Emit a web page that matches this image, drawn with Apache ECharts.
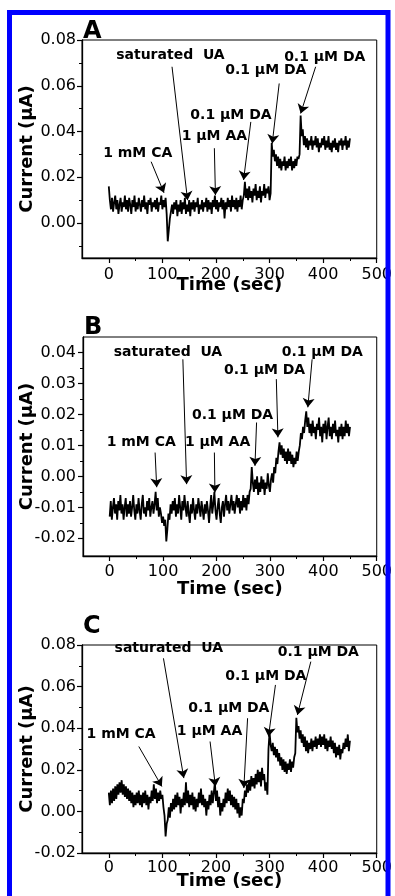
<!DOCTYPE html>
<html><head><meta charset="utf-8">
<script src="https://cdn.jsdelivr.net/npm/echarts@6/dist/echarts.min.js"></script>
<style>html,body{margin:0;padding:0;background:#fff}#c{width:395px;height:896px}</style>
</head><body><div id="c"></div>
<script>
// ---- data (time in sec, current in µA) ----
const time = [
0,2,4,6,8,10,12,14,16,18,
20,22,24,26,28,30,32,34,36,38,
40,42,44,46,48,50,52,54,56,58,
60,62,64,66,68,70,72,74,76,78,
80,82,84,86,88,90,92,94,96,98,
100,102,104,106,108,110,112,114,116,118,
120,122,124,126,128,130,132,134,136,138,
140,142,144,146,148,150,152,154,156,158,
160,162,164,166,168,170,172,174,176,178,
180,182,184,186,188,190,192,194,196,198,
200,202,204,206,208,210,212,214,216,218,
220,222,224,226,228,230,232,234,236,238,
240,242,244,246,248,250,252,254,256,258,
260,262,264,266,268,270,272,274,276,278,
280,282,284,286,288,290,292,294,296,298,
300,302,304,306,308,310,312,314,316,318,
320,322,324,326,328,330,332,334,336,338,
340,342,344,346,348,350,352,354,356,358,
360,362,364,366,368,370,372,374,376,378,
380,382,384,386,388,390,392,394,396,398,
400,402,404,406,408,410,412,414,416,418,
420,422,424,426,428,430,432,434,436,438,
440,442,444,446,448,450];

const currentA = [
0.016,0.010,0.006,0.011,0.005,0.009,0.012,0.006,0.010,0.004,
0.008,0.011,0.005,0.009,0.007,0.012,0.006,0.010,0.005,0.011,
0.008,0.004,0.010,0.007,0.012,0.005,0.009,0.006,0.011,0.008,
0.005,0.010,0.007,0.012,0.006,0.009,0.004,0.010,0.008,0.011,
0.005,0.009,0.007,0.010,0.006,0.011,0.005,0.009,0.008,0.012,
0.006,0.010,0.007,0.011,0.004,-0.008,-0.003,0.002,0.005,0.008,
0.004,0.009,0.006,0.010,0.003,0.008,0.005,0.010,0.004,0.009,
0.006,0.011,0.004,0.008,0.005,0.010,0.003,0.009,0.006,0.010,
0.005,0.009,0.007,0.011,0.004,0.008,0.006,0.010,0.005,0.009,
0.007,0.011,0.005,0.010,0.006,0.009,0.004,0.010,0.007,0.012,
0.006,0.010,0.005,0.009,0.007,0.011,0.006,0.010,0.002,0.009,
0.006,0.011,0.007,0.010,0.005,0.012,0.007,0.010,0.006,0.011,
0.005,0.010,0.007,0.012,0.006,0.010,0.012,0.018,0.011,0.015,
0.010,0.016,0.011,0.014,0.009,0.015,0.012,0.017,0.010,0.014,
0.011,0.016,0.009,0.014,0.012,0.017,0.011,0.015,0.013,0.016,
0.010,0.013,0.035,0.029,0.032,0.027,0.030,0.025,0.029,0.024,
0.028,0.023,0.027,0.025,0.029,0.023,0.027,0.024,0.028,0.025,
0.029,0.023,0.027,0.024,0.028,0.025,0.029,0.028,0.030,0.047,
0.038,0.041,0.034,0.038,0.033,0.037,0.032,0.036,0.034,0.038,
0.032,0.036,0.034,0.038,0.033,0.037,0.031,0.035,0.033,0.037,
0.034,0.038,0.032,0.036,0.033,0.038,0.032,0.035,0.031,0.036,
0.033,0.037,0.032,0.035,0.031,0.036,0.034,0.037,0.032,0.036,
0.034,0.038,0.032,0.036,0.033,0.037];

const currentB = [
-0.013,-0.008,-0.014,-0.010,-0.007,-0.012,-0.009,-0.014,-0.008,-0.011,
-0.006,-0.012,-0.009,-0.014,-0.010,-0.007,-0.013,-0.009,-0.012,-0.008,
-0.013,-0.010,-0.006,-0.011,-0.014,-0.009,-0.012,-0.007,-0.011,-0.014,
-0.009,-0.006,-0.012,-0.010,-0.013,-0.008,-0.011,-0.007,-0.013,-0.010,
-0.008,-0.012,-0.009,-0.005,-0.011,-0.007,-0.013,-0.010,-0.012,-0.015,
-0.013,-0.016,-0.014,-0.021,-0.017,-0.012,-0.014,-0.009,-0.012,-0.008,
-0.011,-0.007,-0.013,-0.009,-0.012,-0.006,-0.010,-0.014,-0.008,-0.011,
-0.006,-0.010,-0.013,-0.008,-0.012,-0.015,-0.009,-0.012,-0.007,-0.011,
-0.014,-0.009,-0.012,-0.007,-0.010,-0.013,-0.008,-0.011,-0.014,-0.009,
-0.012,-0.008,-0.011,-0.015,-0.010,-0.006,-0.012,-0.009,-0.005,-0.011,
-0.014,-0.010,-0.007,-0.012,-0.015,-0.010,-0.008,-0.013,-0.009,-0.006,
-0.011,-0.008,-0.012,-0.009,-0.006,-0.011,-0.008,-0.012,-0.009,-0.006,
-0.010,-0.007,-0.012,-0.008,-0.011,-0.006,-0.010,-0.007,-0.011,-0.006,
-0.009,-0.005,-0.004,0.003,-0.002,-0.005,-0.001,-0.004,0.000,-0.006,
-0.002,-0.005,0.000,-0.004,-0.001,-0.006,-0.002,-0.004,0.001,-0.003,
-0.005,-0.001,0.001,-0.002,0.003,0.001,0.006,0.004,0.008,0.011,
0.007,0.010,0.006,0.009,0.005,0.008,0.004,0.009,0.005,0.008,
0.004,0.007,0.003,0.006,0.004,0.008,0.005,0.008,0.010,0.014,
0.012,0.016,0.014,0.018,0.021,0.016,0.019,0.014,0.017,0.013,
0.018,0.014,0.016,0.012,0.017,0.015,0.019,0.013,0.016,0.011,
0.017,0.014,0.018,0.012,0.016,0.019,0.013,0.016,0.012,0.017,
0.014,0.018,0.013,0.015,0.011,0.016,0.013,0.017,0.012,0.016,
0.013,0.018,0.014,0.017,0.013,0.016];

const currentC = [
0.009,0.003,0.010,0.004,0.011,0.005,0.012,0.006,0.013,0.008,
0.014,0.009,0.015,0.008,0.013,0.007,0.012,0.006,0.011,0.005,
0.010,0.004,0.009,0.002,0.008,0.003,0.009,0.004,0.010,0.003,
0.008,0.002,0.009,0.004,0.010,0.003,0.008,0.001,0.007,0.004,
0.010,0.005,0.013,0.006,0.011,0.004,0.009,0.005,0.010,0.006,
0.008,0.002,-0.002,-0.012,-0.006,-0.004,0.002,-0.003,0.004,0.000,
0.006,0.001,0.008,0.002,0.009,0.003,0.007,-0.001,0.006,0.002,
0.009,0.003,0.014,0.004,0.010,0.002,0.008,0.003,0.009,0.001,
0.007,0.000,0.006,0.002,0.009,0.004,0.011,0.003,0.008,0.002,
0.006,-0.002,0.005,0.001,0.008,0.003,0.010,0.004,0.009,0.014,
0.005,0.010,0.002,0.007,-0.002,0.004,0.000,0.006,0.002,0.009,
0.004,0.011,0.005,0.010,0.003,0.008,0.002,0.007,0.001,0.006,
-0.001,0.004,-0.003,0.002,-0.002,0.006,0.004,0.010,0.007,0.013,
0.009,0.015,0.010,0.017,0.012,0.016,0.011,0.018,0.013,0.020,
0.014,0.019,0.012,0.021,0.015,0.018,0.010,0.014,0.008,0.030,
0.038,0.032,0.029,0.033,0.027,0.031,0.026,0.030,0.024,0.028,
0.022,0.026,0.020,0.025,0.019,0.024,0.018,0.023,0.020,0.025,
0.019,0.024,0.021,0.026,0.028,0.045,0.038,0.041,0.035,0.039,
0.033,0.037,0.031,0.036,0.029,0.034,0.028,0.033,0.030,0.035,
0.029,0.034,0.031,0.036,0.030,0.035,0.032,0.037,0.031,0.036,
0.032,0.037,0.030,0.035,0.029,0.034,0.031,0.036,0.030,0.034,
0.028,0.033,0.026,0.031,0.027,0.032,0.025,0.030,0.028,0.033,
0.030,0.035,0.031,0.037,0.029,0.034];

// ---- tick labels ----
const xTicks = [0,100,200,300,400,500];
const xMinorTicks = [50,150,250,350,450];
const yTicksA = [0,0.02,0.04,0.06,0.08];
const yMinorTicksA = [-0.01,0.01,0.03,0.05,0.07];
const yTicksB = [-0.02,-0.01,0,0.01,0.02,0.03,0.04];
const yMinorTicksB = [-0.015,-0.005,0.005,0.015,0.025,0.035];
const yTicksC = [-0.02,0,0.02,0.04,0.06,0.08];
const yMinorTicksC = [-0.01,0.01,0.03,0.05,0.07];

// ---- annotations (data coordinates) ----
const annotLabels = ['1 mM CA','saturated  UA','1 \u03BCM AA','0.1 \u03BCM DA','0.1 \u03BCM DA','0.1 \u03BCM DA'];
const labelPosA = [[54,0.0306],[115,0.0734],[197,0.0377],[228,0.0472],[293,0.0668],[403,0.0726]];
const arrowFromA = [[79,0.0268],[118,0.0683],[197,0.0327],[265,0.0442],[318,0.061],[386,0.0683]];
const arrowToA = [[103,0.0132],[147,0.010],[199,0.0122],[251.5,0.0188],[305,0.0348],[358,0.0479]];
const labelPosB = [[59,0.011],[109,0.040],[202,0.011],[230,0.0196],[290,0.0341],[398,0.0402]];
const arrowFromB = [[85,0.0077],[137,0.0378],[196,0.0077],[275,0.0174],[312,0.0314],[379,0.0378]];
const arrowToB = [[88,-0.0035],[144,-0.0025],[197,-0.0052],[272,0.0034],[315,0.0126],[371,0.0223]];
const labelPosC = [[23,0.0368],[112,0.0784],[188,0.0384],[224,0.0496],[293,0.0651],[391,0.0763]];
const arrowFromC = [[56,0.0312],[102,0.0736],[189,0.0336],[259,0.0448],[311,0.0608],[377,0.072]];
const arrowToC = [[99,0.012],[140,0.016],[199,0.012],[252,0.0112],[298,0.036],[352,0.0464]];

const panelLetters = ['A','B','C'];

// ---- layout ----
const FONT = 'DejaVu Sans';
const panels = [
  {values: currentA, yMin: -0.0153, yMax: 0.08, yTicks: yTicksA, yMinor: yMinorTicksA,
   labelPos: labelPosA, from: arrowFromA, to: arrowToA,
   grid: {left: 82, right: 17, top: 40, height: 218}, xNameGap: 18, xMargin: 9, yNameGap: 46, yMargin: 6, letterTop: 20},
  {values: currentB, yMin: -0.0257, yMax: 0.045, yTicks: yTicksB, yMinor: yMinorTicksB,
   labelPos: labelPosB, from: arrowFromB, to: arrowToB,
   grid: {left: 83, right: 17, top: 337, height: 219}, xNameGap: 24, xMargin: 8, yNameGap: 47, yMargin: 7, letterTop: 316},
  {values: currentC, yMin: -0.02, yMax: 0.08, yTicks: yTicksC, yMinor: yMinorTicksC,
   labelPos: labelPosC, from: arrowFromC, to: arrowToC,
   grid: {left: 82, right: 17, top: 645, height: 208}, xNameGap: 19, xMargin: 7, yNameGap: 46, yMargin: 6, letterTop: 615}
];

const grids = [], xAxes = [], yAxes = [], series = [], titles = [];
panels.forEach((p, i) => {
  grids.push(Object.assign({show: true, borderColor: '#000', borderWidth: 1, backgroundColor: '#fff'}, p.grid));
  titles.push({text: panelLetters[i], left: p.grid.left + 1, top: p.letterTop, padding: 0,
    textStyle: {fontFamily: FONT, fontWeight: 'bold', fontSize: 24, color: '#000'}});
  // main x axis
  xAxes.push({type: 'value', gridIndex: i, min: -50, max: 500, position: 'bottom',
    name: 'Time (sec)', nameLocation: 'middle', nameGap: p.xNameGap, nameMoveOverlap: false,
    nameTextStyle: {fontFamily: FONT, fontWeight: 'bold', fontSize: 18, color: '#000'},
    axisLine: {show: true, onZero: false, lineStyle: {color: '#000', width: 1.3}},
    axisTick: {show: true, inside: false, length: 5, customValues: xTicks, lineStyle: {color: '#000', width: 1.2}},
    axisLabel: {show: true, customValues: xTicks, margin: p.xMargin, fontFamily: FONT, fontSize: 16, color: '#000'},
    splitLine: {show: false}});
  // minor x ticks
  xAxes.push({type: 'value', gridIndex: i, min: -50, max: 500, position: 'bottom',
    axisLine: {show: false, onZero: false}, axisLabel: {show: false}, splitLine: {show: false},
    axisTick: {show: true, inside: false, length: 3, customValues: xMinorTicks, lineStyle: {color: '#000', width: 1}}});
  // main y axis
  yAxes.push({type: 'value', gridIndex: i, min: p.yMin, max: p.yMax, position: 'left',
    name: 'Current (\u03BCA)', nameLocation: 'middle', nameGap: p.yNameGap, nameMoveOverlap: false,
    nameTextStyle: {fontFamily: FONT, fontWeight: 'bold', fontSize: 18, color: '#000'},
    axisLine: {show: true, onZero: false, lineStyle: {color: '#000', width: 1.3}},
    axisTick: {show: true, inside: false, length: 5, customValues: p.yTicks, lineStyle: {color: '#000', width: 1.2}},
    axisLabel: {show: true, customValues: p.yTicks, margin: p.yMargin, fontFamily: FONT, fontSize: 16, color: '#000',
      formatter: v => v.toFixed(2)},
    splitLine: {show: false}});
  // minor y ticks
  yAxes.push({type: 'value', gridIndex: i, min: p.yMin, max: p.yMax, position: 'left',
    axisLine: {show: false, onZero: false}, axisLabel: {show: false}, splitLine: {show: false},
    axisTick: {show: true, inside: false, length: 3, customValues: p.yMinor, lineStyle: {color: '#000', width: 1}}});

  series.push({type: 'line', xAxisIndex: 2 * i, yAxisIndex: 2 * i,
    data: time.map((t, k) => [t, p.values[k]]),
    showSymbol: false, symbol: 'none', lineStyle: {color: '#000', width: 1.8}, silent: true, z: 2});

  series.push({type: 'scatter', xAxisIndex: 2 * i, yAxisIndex: 2 * i, silent: true, z: 5,
    symbol: 'circle', symbolSize: 1, itemStyle: {color: 'rgba(0,0,0,0)', opacity: 1},
    data: annotLabels.map((s, k) => ({name: s, value: p.labelPos[k]})),
    label: {show: true, position: 'inside', formatter: '{b}', color: '#000', opacity: 1,
      textBorderWidth: 0, fontFamily: FONT, fontWeight: 'bold', fontSize: 14},
    markLine: {silent: true, symbol: ['none', 'arrow'], symbolSize: 9, label: {show: false},
      lineStyle: {color: '#000', width: 1, type: 'solid', opacity: 1}, emphasis: {disabled: true},
      data: p.from.map((f, k) => [{coord: f}, {coord: p.to[k]}])}});
});

const chart = echarts.init(document.getElementById('c'), null, {renderer: 'canvas'});
chart.setOption({
  animation: false,
  backgroundColor: '#fff',
  title: titles,
  grid: grids,
  xAxis: xAxes,
  yAxis: yAxes,
  series: series,
  graphic: [{type: 'rect', silent: true, z: 100,
    shape: {x: 9.5, y: 12.5, width: 378.5, height: 900},
    style: {fill: 'none', stroke: '#0000ff', lineWidth: 5}}]
});
</script></body></html>
